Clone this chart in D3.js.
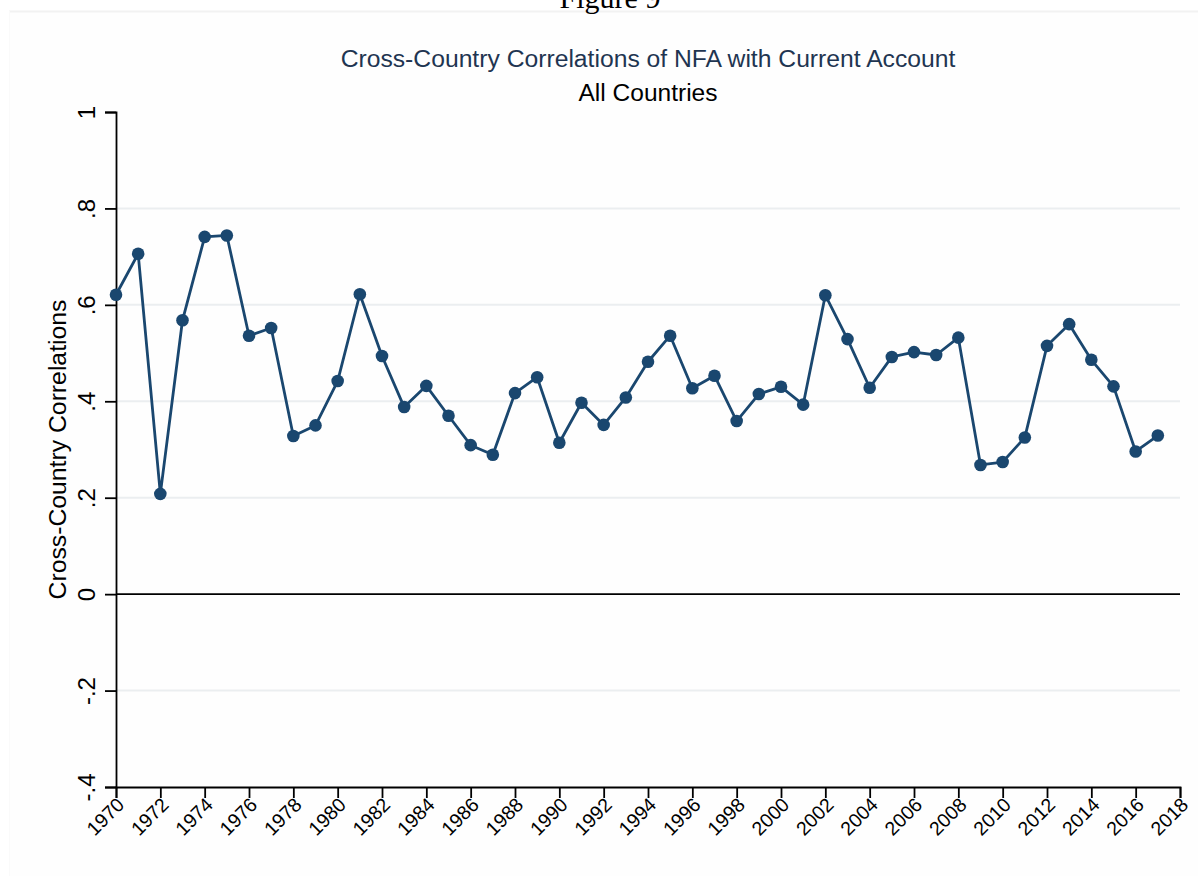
<!DOCTYPE html>
<html>
<head>
<meta charset="utf-8">
<script src="https://cdn.jsdelivr.net/npm/d3@7"></script>
<style>
  html, body { margin: 0; padding: 0; background: #ffffff; }
  svg { display: block; }
  text { font-family: "Liberation Sans", Arial, sans-serif; }
</style>
</head>
<body>
<svg id="chart" width="1198" height="876"></svg>
<script>
// ---- data ----
const years = d3.range(1970, 2018);
const correlations = [
  0.621, 0.706, 0.208, 0.568, 0.741, 0.744, 0.536, 0.552, 0.328, 0.350,
  0.442, 0.622, 0.494, 0.388, 0.432, 0.370, 0.309, 0.289, 0.417, 0.450,
  0.314, 0.397, 0.351, 0.408, 0.482, 0.536, 0.427, 0.453, 0.359, 0.415,
  0.430, 0.393, 0.620, 0.529, 0.428, 0.492, 0.502, 0.496, 0.532, 0.268,
  0.274, 0.325, 0.515, 0.560, 0.486, 0.431, 0.296, 0.329
];
const xTicks = d3.range(1970, 2019, 2);
const yTicks = [-0.4, -0.2, 0, 0.2, 0.4, 0.6, 0.8, 1];
const yTickLabels = ["-.4", "-.2", "0", ".2", ".4", ".6", ".8", "1"];
const gridValues = [-0.2, 0.2, 0.4, 0.6, 0.8];
const pageLabel = "Figure 9";
const titleText = "Cross-Country Correlations of NFA with Current Account";
const subtitleText = "All Countries";
const yTitleText = "Cross-Country Correlations";

// ---- layout ----
const W = 1198, H = 876;
const margin = { left: 116, right: 18, top: 112, bottom: 89 };
const svg = d3.select("#chart");

const x = d3.scaleLinear().domain([1970, 2018]).range([margin.left, W - margin.right]);
const y = d3.scaleLinear().domain([-0.4, 1]).range([H - margin.bottom, margin.top]);

const lineColor = "#1a476f";

// page strip + faint panel
svg.append("rect").attr("x", 0).attr("y", 0).attr("width", W).attr("height", H).attr("fill", "#ffffff");
svg.append("rect").attr("x", 9).attr("y", 11).attr("width", W - 9).attr("height", H - 11).attr("fill", "#fefefe");
svg.append("line").attr("x1", 9).attr("x2", W).attr("y1", 11.5).attr("y2", 11.5).attr("stroke", "#f2f2f2").attr("stroke-width", 2);
svg.append("line").attr("x1", 9.5).attr("x2", 9.5).attr("y1", 11).attr("y2", H).attr("stroke", "#fafafa").attr("stroke-width", 1);

svg.append("text").text(pageLabel)
  .attr("x", 610).attr("y", 8)
  .attr("text-anchor", "middle")
  .style("font-family", "'Liberation Serif', 'Times New Roman', serif")
  .style("font-size", "30px").attr("fill", "#000");

// helper to fit text width
function fitText(sel, targetWidth, startSize) {
  sel.style("font-size", startSize + "px");
  const w = sel.node().getComputedTextLength();
  const size = startSize * targetWidth / w;
  sel.style("font-size", size.toFixed(2) + "px");
  return sel;
}

// titles
const t1 = svg.append("text").text(titleText)
  .attr("x", 648).attr("y", 67).attr("text-anchor", "middle").attr("fill", "#1f3551");
fitText(t1, 615, 21);
const t2 = svg.append("text").text(subtitleText)
  .attr("x", 648).attr("y", 101).attr("text-anchor", "middle").attr("fill", "#000");
fitText(t2, 139, 21);

// gridlines
svg.append("g").selectAll("line").data(gridValues).join("line")
  .attr("x1", x(1970)).attr("x2", x(2018))
  .attr("y1", d => y(d)).attr("y2", d => y(d))
  .attr("stroke", "#ebeef0").attr("stroke-width", 2);

// zero line
svg.append("line")
  .attr("x1", x(1970)).attr("x2", x(2018))
  .attr("y1", y(0)).attr("y2", y(0))
  .attr("stroke", "#000").attr("stroke-width", 1.6);

// y axis
const yAxis = d3.axisLeft(y).tickValues(yTicks)
  .tickFormat((d, i) => yTickLabels[i]).tickSize(11).tickPadding(10);
const gy = svg.append("g").attr("transform", `translate(${margin.left},0)`).call(yAxis);
gy.select(".domain").attr("stroke", "#000").attr("stroke-width", 1.8);
gy.selectAll(".tick line").attr("stroke", "#000").attr("stroke-width", 1.8);
gy.selectAll(".tick text")
  .attr("x", 0).attr("dy", null).attr("y", 0)
  .attr("text-anchor", "middle")
  .attr("transform", "translate(-21,0) rotate(-90)")
  .style("font-size", "24px").attr("fill", "#000");

// x axis
const xAxis = d3.axisBottom(x).tickValues(xTicks).tickFormat(d3.format("d")).tickSize(11).tickPadding(4);
const gx = svg.append("g").attr("transform", `translate(0,${y(-0.4)})`).call(xAxis);
gx.select(".domain").attr("stroke", "#000").attr("stroke-width", 1.8);
gx.selectAll(".tick line").attr("stroke", "#000").attr("stroke-width", 1.8);
gx.selectAll(".tick text")
  .attr("x", 0).attr("y", 0).attr("dy", null)
  .attr("text-anchor", "end")
  .attr("transform", "translate(9,19) rotate(-45)")
  .style("font-size", "19.5px").attr("fill", "#000");

// y title
const yt = svg.append("text").text(yTitleText)
  .attr("transform", `translate(66,${(y(1) + y(-0.4)) / 2}) rotate(-90)`)
  .attr("text-anchor", "middle").attr("fill", "#000");
fitText(yt, 300, 22);

// line + markers
const pts = years.map((yr, i) => ({ yr, v: correlations[i] }));
const line = d3.line().x(d => x(d.yr)).y(d => y(d.v));
svg.append("path").datum(pts)
  .attr("d", line).attr("fill", "none")
  .attr("stroke", lineColor).attr("stroke-width", 2.8).attr("stroke-linejoin", "round");
svg.append("g").selectAll("circle").data(pts).join("circle")
  .attr("cx", d => x(d.yr)).attr("cy", d => y(d.v)).attr("r", 6.3)
  .attr("fill", lineColor);
</script>
</body>
</html>
